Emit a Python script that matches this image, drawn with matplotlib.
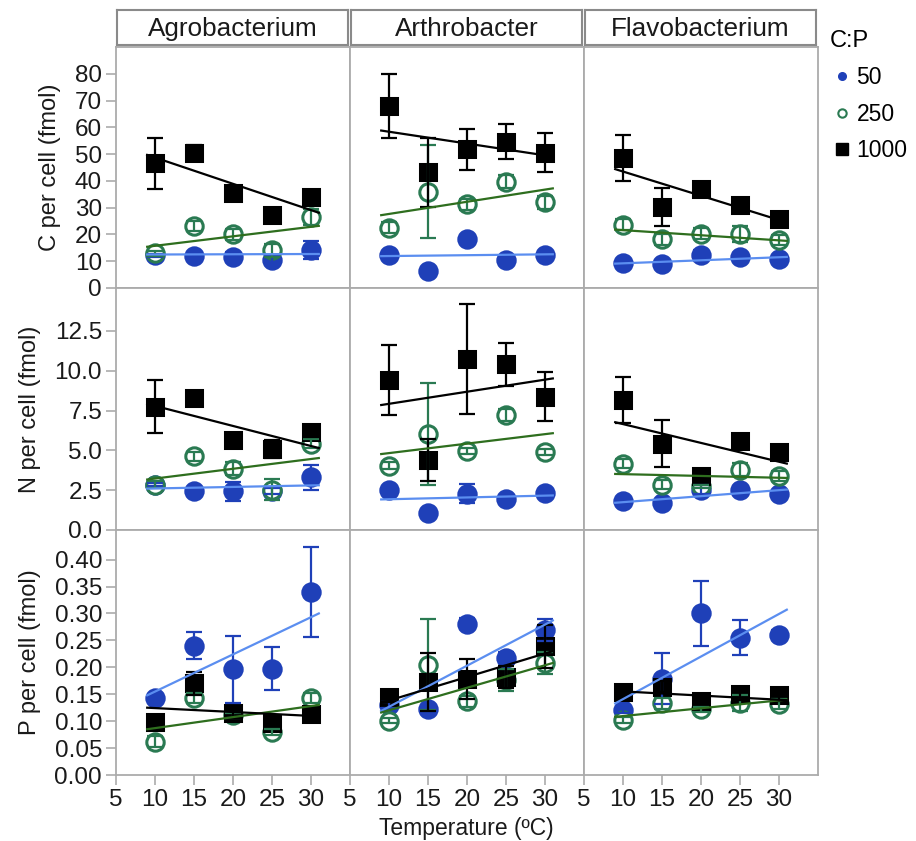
import matplotlib
matplotlib.use("Agg")
import matplotlib.pyplot as plt
from matplotlib.lines import Line2D
import numpy as np

plt.rcParams["font.family"] = ["Liberation Sans", "DejaVu Sans"]

temps = [10, 15, 20, 25, 30]
fit_span = [9, 31]
genera = ["Agrobacterium", "Arthrobacter", "Flavobacterium"]
ratios = [50, 250, 1000]
ratio_labels = ["50", "250", "1000"]

# C per cell (fmol): mean, error half-width, fitted value at 9 and 31 degC
c_mean = {
    "Agrobacterium": [[12.2, 11.9, 11.6, 10.4, 14.1], [12.9, 23.1, 20.0, 14.1, 26.6], [46.6, 50.3, 35.6, 27.2, 34.1]],
    "Arthrobacter": [[12.2, 6.4, 18.4, 10.4, 12.2], [22.5, 36.0, 31.2, 39.7, 32.0], [68.0, 43.2, 51.8, 54.7, 50.6]],
    "Flavobacterium": [[9.5, 9.1, 12.2, 11.6, 10.7], [23.7, 18.2, 20.3, 20.3, 17.9], [48.7, 30.3, 37.0, 31.0, 25.7]],
}
c_err = {
    "Agrobacterium": [[0.5, 0.5, 2.0, 1.5, 3.4], [1.0, 2.0, 2.0, 2.5, 3.0], [9.6, 3.0, 0.5, 0.5, 0.5]],
    "Arthrobacter": [[0, 0, 0, 0, 0], [2.0, 17.4, 2.0, 2.5, 2.5], [12.0, 12.8, 7.7, 6.6, 7.3]],
    "Flavobacterium": [[0.5, 0.5, 2.0, 1.5, 1.0], [2.0, 2.0, 2.0, 3.0, 2.0], [8.6, 7.0, 0.5, 0.5, 2.0]],
}
c_fit = {
    "Agrobacterium": [[12.5, 12.7], [15.4, 23.2], [49.7, 28.1]],
    "Arthrobacter": [[11.9, 12.6], [27.2, 37.2], [58.8, 49.1]],
    "Flavobacterium": [[9.1, 11.6], [21.8, 17.6], [44.4, 24.5]],
}

# N per cell (fmol)
n_mean = {
    "Agrobacterium": [[2.85, 2.48, 2.44, 2.44, 3.31], [2.85, 4.63, 3.85, 2.54, 5.42], [7.75, 8.31, 5.67, 5.08, 6.13]],
    "Arthrobacter": [[2.54, 1.04, 2.29, 1.96, 2.33], [4.04, 6.02, 4.98, 7.23, 4.90], [9.42, 4.42, 10.73, 10.42, 8.38]],
    "Flavobacterium": [[1.85, 1.71, 2.54, 2.54, 2.29], [4.17, 2.85, 2.75, 3.79, 3.38], [8.17, 5.42, 3.38, 5.56, 4.88]],
}
n_err = {
    "Agrobacterium": [[0.1, 0.1, 0.6, 0.2, 0.8], [0.2, 0.3, 0.4, 0.65, 0.3], [1.67, 0.3, 0.1, 0.57, 0.3]],
    "Arthrobacter": [[0, 0, 0.6, 0, 0], [0.2, 3.2, 0.2, 0.4, 0.2], [2.2, 1.32, 3.45, 1.35, 1.55]],
    "Flavobacterium": [[0.1, 0.2, 0.3, 0.1, 0.1], [0.3, 0.3, 0.1, 0.4, 0.3], [1.45, 1.48, 0.3, 0.3, 0.3]],
}
n_fit = {
    "Agrobacterium": [[2.6, 2.81], [3.17, 4.52], [7.92, 5.15]],
    "Arthrobacter": [[1.92, 2.17], [4.77, 6.08], [7.85, 9.52]],
    "Flavobacterium": [[1.71, 2.54], [3.52, 3.27], [6.77, 4.17]],
}

# P per cell (fmol)
p_mean = {
    "Agrobacterium": [[0.143, 0.240, 0.196, 0.197, 0.340], [0.062, 0.143, 0.111, 0.080, 0.143], [0.098, 0.170, 0.116, 0.097, 0.114]],
    "Arthrobacter": [[0.130, 0.122, 0.281, 0.218, 0.269], [0.101, 0.205, 0.137, 0.176, 0.208], [0.145, 0.172, 0.178, 0.182, 0.239]],
    "Flavobacterium": [[0.121, 0.179, 0.300, 0.255, 0.260], [0.102, 0.133, 0.122, 0.133, 0.132], [0.155, 0.164, 0.137, 0.150, 0.148]],
}
p_err = {
    "Agrobacterium": [[0.005, 0.025, 0.062, 0.040, 0.083], [0.01, 0.01, 0.005, 0.005, 0.01], [0.014, 0.021, 0.01, 0.005, 0.005]],
    "Arthrobacter": [[0.005, 0.005, 0.01, 0.01, 0.02], [0.005, 0.084, 0.01, 0.02, 0.02], [0.01, 0.054, 0.037, 0.02, 0.04]],
    "Flavobacterium": [[0.005, 0.047, 0.060, 0.032, 0.01], [0.005, 0.01, 0.005, 0.015, 0.01], [0.01, 0.01, 0.005, 0.01, 0.01]],
}
p_fit = {
    "Agrobacterium": [[0.148, 0.300], [0.085, 0.130], [0.125, 0.109]],
    "Arthrobacter": [[0.119, 0.287], [0.116, 0.208], [0.134, 0.230]],
    "Flavobacterium": [[0.133, 0.307], [0.108, 0.140], [0.156, 0.139]],
}

row_labels = ["C per cell (fmol)", "N per cell (fmol)", "P per cell (fmol)"]
row_ylims = [(0, 90), (0, 15.2), (0, 0.455)]
row_yticks = [np.arange(0, 81, 10), np.arange(0, 12.6, 2.5), np.arange(0, 0.401, 0.05)]
row_fmt = ["{:.0f}", "{:.1f}", "{:.2f}"]

marker_color = ["#1f40b8", "#2a7a52", "#000000"]
line_color = ["#5b8ef0", "#2e6e1e", "#000000"]
frame = "#ababab"
text_color = "#1a1a1a"

W, H = 916, 841
fig = plt.figure(figsize=(W / 100, H / 100), dpi=100)

col_left = [116, 350, 584]
col_w = 234
row_top = [47, 288, 530]
row_h = [241, 242, 245]

rows = [(c_mean, c_err, c_fit), (n_mean, n_err, n_fit), (p_mean, p_err, p_fit)]

for r, (means, errs, fits) in enumerate(rows):
    for c, genus in enumerate(genera):
        ax = fig.add_axes([col_left[c] / W, 1 - (row_top[r] + row_h[r]) / H, col_w / W, row_h[r] / H])
        for k in range(3):
            mfc = "white" if k == 1 else marker_color[k]
            mk = "s" if k == 2 else "o"
            ms = 11.5 if k == 2 else 12.5
            ax.plot(temps, means[genus][k], ls="", marker=mk, ms=ms, mfc=mfc,
                    mec=marker_color[k], mew=2.2, zorder=3 + k * 0.1)
            ax.errorbar(temps, means[genus][k], yerr=errs[genus][k], fmt="none",
                        ecolor=marker_color[k], elinewidth=1.6, capsize=6, capthick=1.6,
                        zorder=4 + k * 0.1)
            ax.plot(fit_span, fits[genus][k], color=line_color[k], lw=1.6, zorder=5)
        ax.set_xlim(5, 35)
        ax.set_ylim(*row_ylims[r])
        for s in ax.spines.values():
            s.set_color(frame)
            s.set_linewidth(1.3)
        ax.tick_params(colors=frame, labelcolor=text_color, length=7, width=1.2, labelsize=17.5, pad=3)
        ax.set_xticks([5, 10, 15, 20, 25, 30])
        if r < 2:
            ax.tick_params(axis="x", bottom=False, labelbottom=False)
        if c == 0:
            ax.set_yticks(row_yticks[r])
            ax.set_yticklabels([row_fmt[r].format(v) for v in row_yticks[r]])
            ax.set_ylabel(row_labels[r], fontsize=17, labelpad=10, color=text_color)
        else:
            ax.tick_params(axis="y", left=False, labelleft=False)
        if r == 0:
            sax = fig.add_axes([(col_left[c] + 1) / W, 1 - 45 / H, (col_w - 3) / W, 35 / H])
            sax.set_xticks([])
            sax.set_yticks([])
            for s in sax.spines.values():
                s.set_color("#8a8a8a")
                s.set_linewidth(1.5)
            sax.text(0.5, 0.47, genus, ha="center", va="center", fontsize=18.8, color=text_color)

fig.text(466 / W, 1 - 829 / H, "Temperature (ºC)", ha="center", va="center", fontsize=16.5, color=text_color)

handles = [
    Line2D([], [], ls="", marker="o", ms=5.5, mfc=marker_color[0], mec=marker_color[0]),
    Line2D([], [], ls="", marker="o", ms=6, mfc="white", mec=marker_color[1], mew=1.5),
    Line2D([], [], ls="", marker="s", ms=8, mfc="black", mec="black"),
]
fig.legend(handles, ratio_labels, title="C:P", loc="upper left", bbox_to_anchor=(814 / W, 1 - 14 / H),
           frameon=False, fontsize=16.5, title_fontsize=17, handletextpad=0.15, handlelength=1.0,
           labelspacing=0.6, borderpad=0.2, alignment="left")

fig.savefig("out.png", dpi=100)
